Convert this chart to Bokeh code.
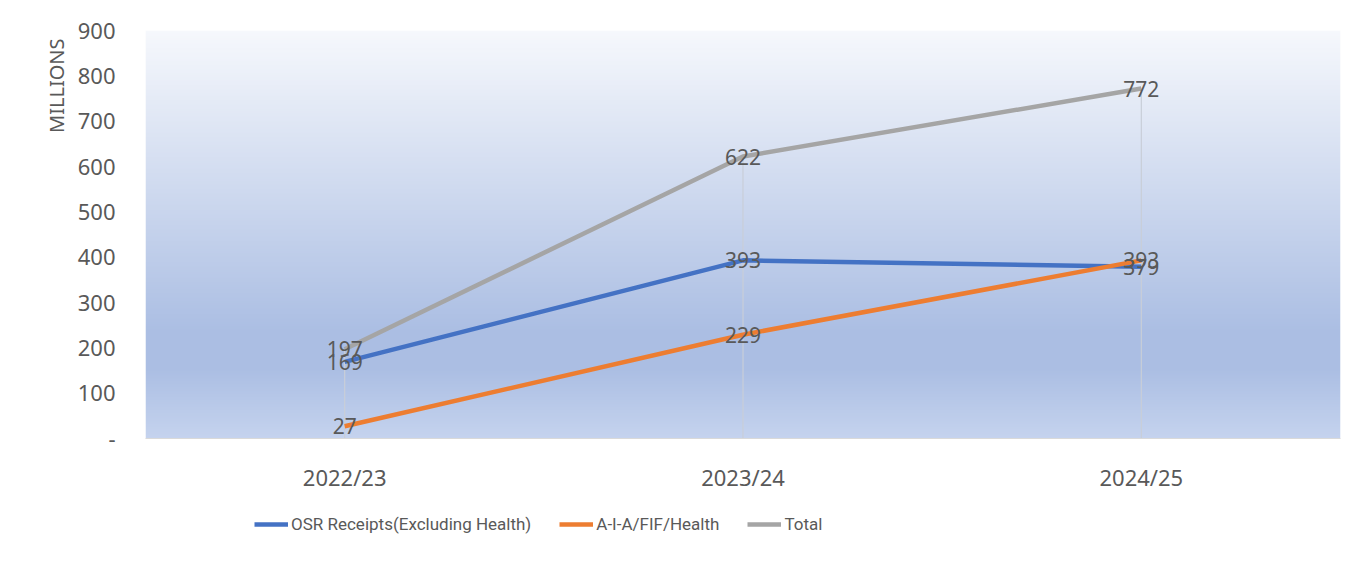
import numpy as np
from bokeh.plotting import figure
from bokeh.layouts import column
from bokeh.models import Legend, LegendItem, FixedTicker, Title, ColumnDataSource
from bokeh.core.properties import value
from bokeh.embed import file_html
from bokeh.resources import INLINE

categories = ["2022/23", "2023/24", "2024/25"]
osr = [169, 393, 379]
aia = [27, 229, 393]
total = [197, 622, 772]
y_ticks = [0, 100, 200, 300, 400, 500, 600, 700, 800, 900]
y_tick_labels = ["-", "100", "200", "300", "400", "500", "600", "700", "800", "900"]

series_names = ["OSR Receipts(Excluding Health)", "A-I-A/FIF/Health", "Total"]
series_values = [osr, aia, total]
series_colors = ["#4472C4", "#ED7D31", "#A5A5A5"]

FONT = "Noto Sans"
TXT = "#595959"
W = 1360

xs = list(range(len(categories)))

p = figure(width=W, height=500, output_backend="svg", toolbar_location=None,
           x_range=(-0.5, len(categories) - 0.5), y_range=(0, 900),
           min_border_left=145, min_border_right=W - 1340, min_border_top=30, min_border_bottom=62)
p.outline_line_color = None
p.background_fill_color = None
p.border_fill_color = "white"
p.grid.visible = False

# background gradient of plot area
stops = [(0.0, (246, 248, 252)), (0.74, (171, 190, 227)), (0.83, (171, 190, 227)), (1.0, (197, 211, 238))]
n = 400
img = np.zeros((n, 1), dtype=np.uint32)
view = img.view(dtype=np.uint8).reshape((n, 1, 4))
for r in range(n):
    t = 1.0 - r / (n - 1)  # row 0 bottom -> t=1
    for k in range(len(stops) - 1):
        t0, c0 = stops[k]
        t1, c1 = stops[k + 1]
        if t0 <= t <= t1:
            f = 0 if t1 == t0 else (t - t0) / (t1 - t0)
            c = [int(round(c0[j] + (c1[j] - c0[j]) * f)) for j in range(3)]
            break
    view[r, 0, 0], view[r, 0, 1], view[r, 0, 2], view[r, 0, 3] = c[0], c[1], c[2], 255
p.image_rgba(image=[img], x=-0.5, y=0, dw=len(categories), dh=900)

# drop lines
tops = [max(v) for v in zip(*series_values)]
p.segment(x0=xs, y0=[0] * len(xs), x1=xs, y1=tops, line_color="#c9ced8", line_width=1.2)

for name, vals, col in zip(series_names, series_values, series_colors):
    p.line(xs, vals, line_color=col, line_width=4.5)

for vals in series_values:
    src = ColumnDataSource(dict(x=xs, y=vals, t=[str(v) for v in vals]))
    p.text(x="x", y="y", text="t", source=src, text_align="center", text_baseline="middle",
           text_font=value(FONT), text_font_size="21px", text_color=TXT)

# axes
p.yaxis.ticker = FixedTicker(ticks=y_ticks)
p.yaxis.major_label_overrides = {t: l for t, l in zip(y_ticks, y_tick_labels)}
p.yaxis.axis_line_color = None
p.yaxis.major_tick_line_color = None
p.yaxis.minor_tick_line_color = None
p.yaxis.major_label_text_font = FONT
p.yaxis.major_label_text_font_size = "22px"
p.yaxis.major_label_text_color = TXT
p.yaxis.major_label_standoff = 24

p.xaxis.ticker = FixedTicker(ticks=xs)
p.xaxis.major_label_overrides = {i: c for i, c in zip(xs, categories)}
p.xaxis.axis_line_color = "#d9d9d9"
p.xaxis.major_tick_line_color = None
p.xaxis.minor_tick_line_color = None
p.xaxis.major_label_text_font = FONT
p.xaxis.major_label_text_font_size = "22px"
p.xaxis.major_label_text_color = TXT
p.xaxis.major_label_standoff = 17

p.add_layout(Title(text="MILLIONS", align="right", offset=8, text_font=FONT, text_font_size="20px",
                   text_color=TXT, text_font_style="normal"), "left")

# legend strip below the chart (its series lie outside this strip's visible range)
lg = figure(width=W, height=50, output_backend="svg", toolbar_location=None,
            x_range=(0, 1), y_range=(-2, -1), min_border=0)
lg.axis.visible = False
lg.grid.visible = False
lg.outline_line_color = None
items = []
for name, vals, col in zip(series_names, series_values, series_colors):
    r = lg.line(xs, vals, line_color=col, line_width=4.5)
    items.append(LegendItem(label=name, renderers=[r]))
legend = Legend(items=items, orientation="horizontal", location=(109, 16),
                label_text_font="Roboto", label_text_font_size="17px",
                label_text_color=TXT, glyph_width=34, glyph_height=20, spacing=28,
                label_standoff=3, background_fill_alpha=0, border_line_color=None,
                padding=4, margin=0)
lg.add_layout(legend, "center")

open("out.html", "w").write(file_html(column(p, lg, spacing=0), INLINE))
